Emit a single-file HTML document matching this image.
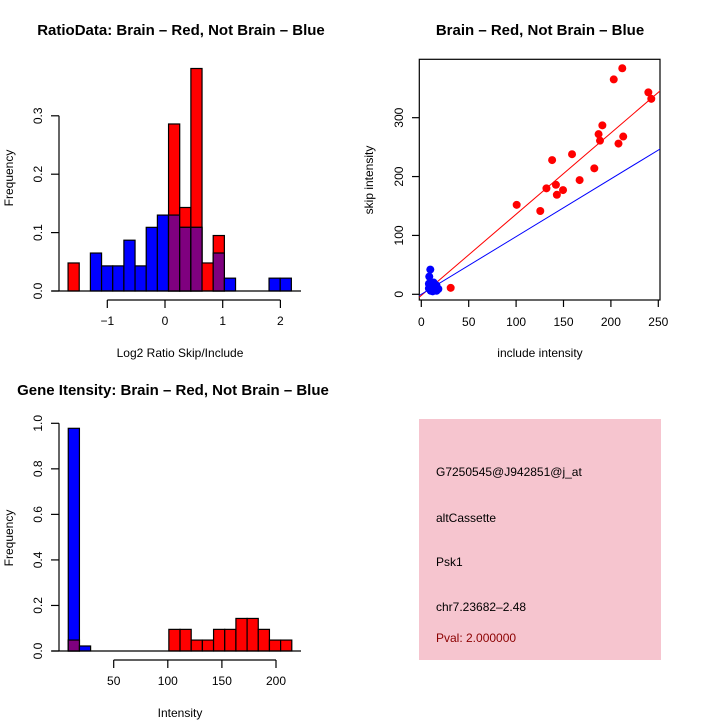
<!DOCTYPE html>
<html><head><meta charset="utf-8"><style>
html,body{margin:0;padding:0;background:#fff}
svg{display:block;font-family:"Liberation Sans",sans-serif}
</style></head><body>
<svg id="c" width="720" height="720" viewBox="0 0 720 720">
<defs><pattern id="dith" width="2" height="2" patternUnits="userSpaceOnUse"><rect width="2" height="2" fill="#ffc0cb"/><rect width="1" height="1" fill="#f0c8d2"/><rect x="1" y="1" width="1" height="1" fill="#f0c8d2"/></pattern></defs>
<text x="181" y="35" font-size="15" font-weight="bold" text-anchor="middle">RatioData: Brain – Red, Not Brain – Blue</text>
<text x="540" y="35" font-size="15" font-weight="bold" text-anchor="middle">Brain – Red, Not Brain – Blue</text>
<text x="173" y="395" font-size="15" font-weight="bold" text-anchor="middle">Gene Itensity: Brain – Red, Not Brain – Blue</text>
<g id="g1"></g>
<g id="g2"></g>
<g id="g3"></g>
<rect x="419" y="419" width="242" height="241" fill="#f6c5cf"/>
<g font-size="12">
<text x="436" y="476">G7250545@J942851@j_at</text>
<text x="436" y="522">altCassette</text>
<text x="436" y="566">Psk1</text>
<text x="436" y="611">chr7.23682–2.48</text>
<text x="436" y="642" fill="#8b0000">Pval: 2.000000</text>
</g>
</svg>
<script>
// Ratio histogram data
const ratioBinStart = -1.68, ratioBinWidth = 0.1935;
const ratioRed = [0.048,0,0,0,0,0,0,0,0,0.286,0.143,0.381,0.048,0.095,0,0,0,0,0,0];
const ratioBlue = [0,0,0.065,0.043,0.043,0.087,0.043,0.109,0.130,0.130,0.109,0.109,0,0.065,0.022,0,0,0,0.022,0.022];
const ratioXTicks = [-1,0,1,2];
const ratioYTicks = [0.0,0.1,0.2,0.3];
// Scatter data
const redX = [212,203,239.5,242.6,191,187,188.5,213,208,159,138,182.5,167,142,132,149.5,143,100.6,125.5,31];
const redY = [384,365,343,332,287,272,261,268,256,238,228,214,194,186,180,177,169,152,141.5,11];
const blueX = [9.5,8.4,8,10,12,14,16,18,9,11,13,15,17,10,12,14,8,11,16,13];
const blueY = [42,30,18,12,8,10,6,9,14,16,20,12,8,6,5,7,10,9,15,11];
const redFit = [-2,1.38];
const blueFit = [0,0.98];
const scatXTicks = [0,50,100,150,200,250];
const scatYTicks = [0,100,200,300];
// Intensity histogram data
const intBinStart = 8, intBinWidth = 10.33;
const intRed = [0.048,0,0,0,0,0,0,0,0,0.095,0.095,0.048,0.048,0.095,0.095,0.143,0.143,0.095,0.048,0.048];
const intBlue = [0.978,0.022,0,0,0,0,0,0,0,0,0,0,0,0,0,0,0,0,0,0];
const intXTicks = [50,100,150,200];
const intYTicks = [0.0,0.2,0.4,0.6,0.8,1.0];

const NS='http://www.w3.org/2000/svg';
function mk(p,t,a,txt){const e=document.createElementNS(NS,t);for(const k in a)e.setAttribute(k,a[k]);if(txt!==undefined)e.textContent=txt;p.appendChild(e);return e;}

function hist(g,start,w,red,blue,xs,ys,xt,yt,opts){
  const n=red.length;
  for(let i=0;i<n;i++){
    const x0=xs(start+i*w),x1=xs(start+(i+1)*w);
    if(red[i]>0){const r=mk(g,'rect',{x:x0,y:ys(red[i]),width:x1-x0,height:ys(0)-ys(red[i]),fill:'#ff0000',stroke:'#000','stroke-width':1.2});
      
      }
    if(blue[i]>0){const b=mk(g,'rect',{x:x0,y:ys(blue[i]),width:x1-x0,height:ys(0)-ys(blue[i]),fill:'#0000ff',stroke:'#000','stroke-width':1.2});
      
      }
    const m=Math.min(red[i],blue[i]);
    if(m>0){const p=mk(g,'rect',{x:x0,y:ys(m),width:x1-x0,height:ys(0)-ys(m),fill:'#7f007f',stroke:'#000','stroke-width':1.2});
      
      }
  }
  mk(g,'line',{x1:52,x2:301,y1:ys(0),y2:ys(0),stroke:'#000','stroke-width':1.2});
  const ax=opts.axY;
  mk(g,'line',{x1:xs(xt[0]),x2:xs(xt[xt.length-1]),y1:ax,y2:ax,stroke:'#000','stroke-width':1.2});
  xt.forEach(v=>{mk(g,'line',{x1:xs(v),x2:xs(v),y1:ax,y2:ax+8,stroke:'#000','stroke-width':1.2});
    const t=mk(g,'text',{x:xs(v),y:ax+25,'font-size':12,'text-anchor':'middle'},String(v).replace('-','−'));
    
    });
  mk(g,'line',{x1:59,x2:59,y1:ys(yt[0]),y2:ys(yt[yt.length-1]),stroke:'#000','stroke-width':1.2});
  yt.forEach(v=>{mk(g,'line',{x1:51,x2:59,y1:ys(v),y2:ys(v),stroke:'#000','stroke-width':1.2});
    const t=mk(g,'text',{x:0,y:0,'font-size':12,'text-anchor':'middle',transform:`translate(42,${ys(v)}) rotate(-90)`},v.toFixed(1));
    
    });
  const xl=mk(g,'text',{x:180,y:opts.xlabY,'font-size':12,'text-anchor':'middle'},opts.xlab);
  
  
  const yl=mk(g,'text',{x:0,y:0,'font-size':12,'text-anchor':'middle',transform:`translate(13,${opts.ylabY}) rotate(-90)`},'Frequency');
  
  
}

// Chart 1
const xs1=v=>165+(v)*57.7, ys1=v=>291-v*584;
hist(document.getElementById('g1'),ratioBinStart,ratioBinWidth,ratioRed,ratioBlue,xs1,ys1,ratioXTicks,ratioYTicks,{axY:300,xlab:'Log2 Ratio Skip/Include',xlabY:357,ylabY:178});
// Chart 3
const xs3=v=>113.7+(v-50)*1.082, ys3=v=>651-v*227.7;
hist(document.getElementById('g3'),intBinStart,intBinWidth,intRed,intBlue,xs3,ys3,intXTicks,intYTicks,{axY:660,xlab:'Intensity',xlabY:717,ylabY:538});

// Chart 2 scatter
const g2=document.getElementById('g2');
const xs2=v=>421.3+v*0.948, ys2=v=>294.3-v*0.5887;
mk(g2,'rect',{x:419.3,y:59.3,width:240.7,height:240.7,fill:'none',stroke:'#000','stroke-width':1.2});
const clip=mk(g2,'clipPath',{id:'cp'});mk(clip,'rect',{x:419.3,y:59.3,width:240.7,height:240.7});
[[redFit,'#ff0000','red-fit-line'],[blueFit,'#0000ff','blue-fit-line']].forEach(([f,c,nm])=>{
  const l=mk(g2,'line',{x1:xs2(-10),y1:ys2(f[0]+f[1]*-10),x2:xs2(260),y2:ys2(f[0]+f[1]*260),stroke:c,'stroke-width':1,'clip-path':'url(#cp)'});
  
  });
redX.forEach((x,i)=>{const c=mk(g2,'circle',{cx:xs2(x),cy:ys2(redY[i]),r:4,fill:'#ff0000'});
  
  });
blueX.forEach((x,i)=>{const c=mk(g2,'circle',{cx:xs2(x),cy:ys2(blueY[i]),r:4,fill:'#0000ff'});
  
  });
scatXTicks.forEach(v=>{mk(g2,'line',{x1:xs2(v),x2:xs2(v),y1:300,y2:307,stroke:'#000','stroke-width':1.2});
  const t=mk(g2,'text',{x:xs2(v),y:326,'font-size':12,'text-anchor':'middle'},String(v));
  
  });
scatYTicks.forEach(v=>{mk(g2,'line',{x1:412,x2:419.3,y1:ys2(v),y2:ys2(v),stroke:'#000','stroke-width':1.2});
  const t=mk(g2,'text',{x:0,y:0,'font-size':12,'text-anchor':'middle',transform:`translate(403,${ys2(v)}) rotate(-90)`},String(v));
  
  });
const sx=mk(g2,'text',{x:540,y:357,'font-size':12,'text-anchor':'middle'},'include intensity');


const sy=mk(g2,'text',{x:0,y:0,'font-size':12,'text-anchor':'middle',transform:'translate(373,180) rotate(-90)'},'skip intensity');


</script>
</body></html>
